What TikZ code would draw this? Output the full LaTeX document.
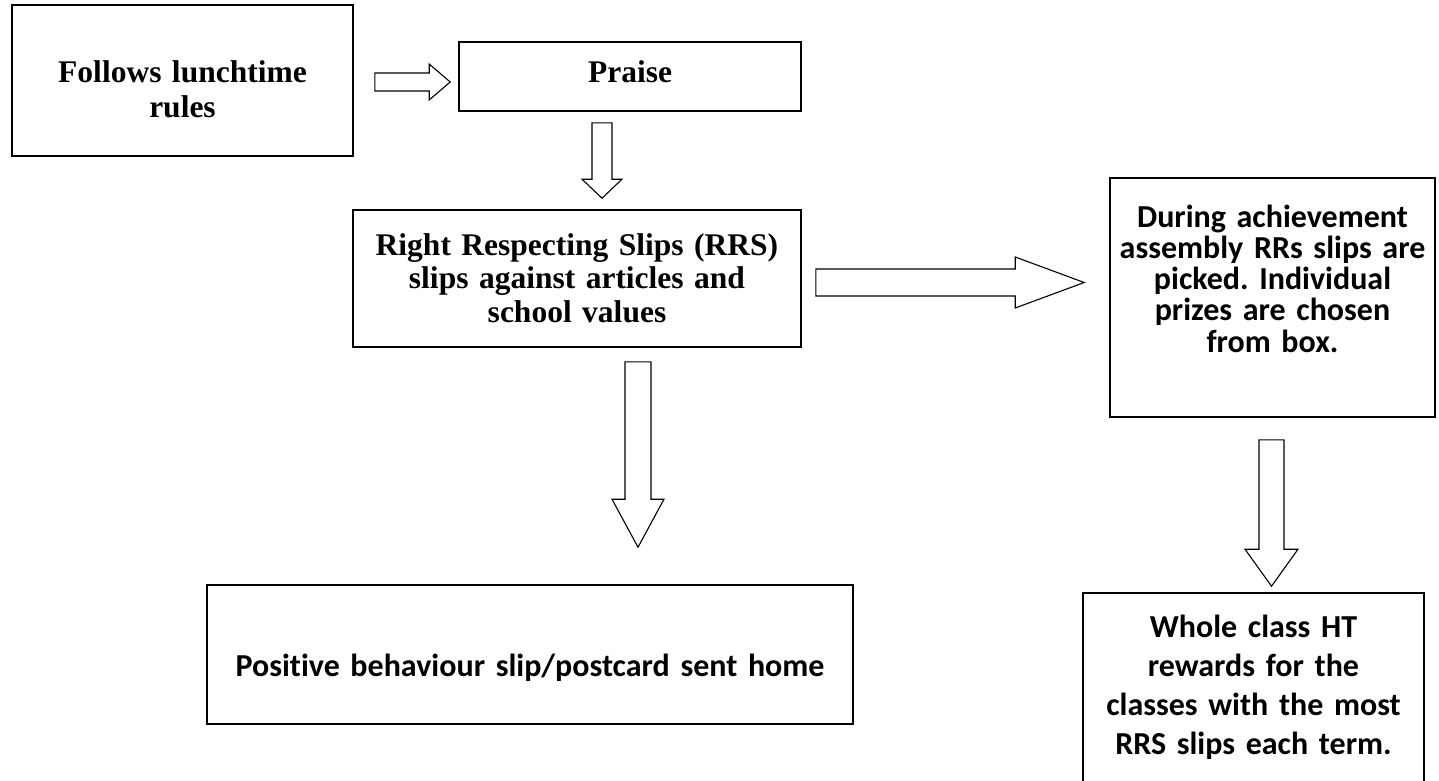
\documentclass[tikz,border=0pt]{standalone}
\usepackage{fontspec}
\usetikzlibrary{calc}
\newfontfamily\serifrm{Liberation Serif}
\newfontfamily\sansrm{Carlito}[Ligatures=NoCommon]
\frenchspacing
\tikzset{
  box/.style={draw,line width=1.6pt,inner sep=0pt,anchor=base,align=center},
  timesfont/.style={font=\serifrm\bfseries\fontsize{31.5}{#1}\selectfont},
  calfont/.style={font=\sansrm\bfseries\fontsize{32}{#1}\selectfont},
  blockarrow/.style={draw,line width=1.1pt,line join=miter}
}
\begin{document}
\begin{tikzpicture}[x=1pt,y=-1pt]
\useasboundingbox (0,0) rectangle (1439,780);
\clip (0,0) rectangle (1439,780);
% boxes
\node[box,timesfont=35,text width=341pt,text height=77pt,text depth=74pt] (lunch) at (182.5,82) {Follows lunchtime\\rules};
\node[box,timesfont=35,text width=342pt,text height=40pt,text depth=29pt] (praise) at (630,82) {Praise};
\node[box,timesfont=33.5,text width=448pt,text height=45pt,text depth=92pt] (rrs) at (577,255) {Right Respecting Slips (RRS)\\slips against articles and\\school values};
\node[box,calfont=32,text width=646pt,text height=91pt,text depth=48pt] (postcard) at (530,676) {Positive behaviour slip/postcard sent home};
\node[box,calfont=31.3,text width=325pt,text height=49pt,text depth=190pt] (assembly) at (1272.5,227) {During achievement\\assembly RRs slips are\\picked. Individual\\prizes are chosen\\from box.};
\node[box,calfont=39,text width=341pt,text height=44pt,text depth=170pt] (classes) at (1253.5,637) {Whole class HT\\rewards for the\\classes with the most\\RRS slips each term.};
% arrow ends
\coordinate (a1s) at ($(lunch.east)+(21,1.5)$);
\coordinate (a1e) at ($(a1s -| praise.west)+(-8,0)$);
\coordinate (a2s) at ($(praise.south)+(-28,11)$);
\coordinate (a2e) at ($(a2s |- rrs.north)+(0,-11)$);
\coordinate (a3s) at ($(rrs.south)+(61,14)$);
\coordinate (a3e) at ($(a3s |- postcard.north)+(0,-37)$);
\coordinate (a4s) at ($(rrs.east)+(14,4)$);
\coordinate (a4e) at ($(a4s -| assembly.west)+(-25,0)$);
\coordinate (a5s) at ($(assembly.south)+(-1,22)$);
\coordinate (a5e) at ($(a5s |- classes.north)+(0,-6)$);
% block arrows
\foreach \s/\e/\w/\h/\l in {a1s/a1e/9/18/21,a4s/a4e/13.5/25.5/69}
  \draw[blockarrow] ($(\s)+(0,-\w)$) -- ($(\e)+(-\l,-\w)$) -- ($(\e)+(-\l,-\h)$) -- (\e)
    -- ($(\e)+(-\l,\h)$) -- ($(\e)+(-\l,\w)$) -- ($(\s)+(0,\w)$) -- cycle;
\foreach \s/\e/\w/\h/\l in {a2s/a2e/10/20/19,a3s/a3e/13/26/48,a5s/a5e/12.5/26.5/37}
  \draw[blockarrow] ($(\s)+(-\w,0)$) -- ($(\e)+(-\w,-\l)$) -- ($(\e)+(-\h,-\l)$) -- (\e)
    -- ($(\e)+(\h,-\l)$) -- ($(\e)+(\w,-\l)$) -- ($(\s)+(\w,0)$) -- cycle;
\end{tikzpicture}
\end{document}
